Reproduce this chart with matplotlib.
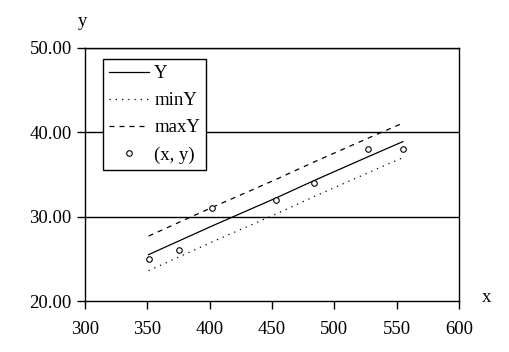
import matplotlib
matplotlib.use("Agg")
import matplotlib.pyplot as plt

# data
x_pts = [351, 375, 402, 453, 484, 527, 555]
y_pts = [25.0, 26.0, 31.0, 32.0, 34.0, 38.0, 38.0]
Y = [25.5, 27.1, 28.9, 32.2, 34.3, 37.1, 38.9]
minY = [23.6, 25.2, 27.0, 30.3, 32.4, 35.2, 37.0]
maxY = [27.7, 29.3, 31.1, 34.4, 36.5, 39.3, 41.1]
x_ticks = [300, 350, 400, 450, 500, 550, 600]
y_ticks = [20, 30, 40, 50]
y_tick_labels = ["20.00", "30.00", "40.00", "50.00"]

plt.rcParams['font.family'] = ['Liberation Serif', 'DejaVu Serif']

fig = plt.figure(figsize=(5.09, 3.52), dpi=100)
W, H = 509, 352
ax = fig.add_axes([85 / W, 1 - 301 / H, (459 - 85) / W, (301 - 48) / H])

ax.plot(x_pts, Y, color='black', lw=0.9, label='Y')
ax.plot(x_pts, minY, color='black', lw=0.9, linestyle=(0, (1, 4)), label='minY')
ax.plot(x_pts, maxY, color='black', lw=0.9, linestyle=(0, (4, 4)), label='maxY')
ax.plot(x_pts, y_pts, linestyle='none', marker='o', markersize=4,
        markerfacecolor='white', markeredgecolor='black', markeredgewidth=0.8,
        label='(x, y)')

ax.set_xlim(300, 600)
ax.set_ylim(20, 50)
ax.set_xticks(x_ticks)
ax.set_yticks(y_ticks)
ax.set_yticklabels(y_tick_labels)
for yv in y_ticks[1:]:
    ax.axhline(yv, color='black', lw=1.0, zorder=0)

for s in ax.spines.values():
    s.set_linewidth(1.0)
    s.set_color('black')

ax.tick_params(axis='both', direction='out', length=5.5, width=1.0,
               labelsize=13.5, colors='black', pad=4)
ax.tick_params(axis='x', pad=9)

fig.text(83 / W, 1 - 22 / H, 'y', fontsize=13.5, ha='center', va='center')
fig.text(487 / W, 1 - 298 / H, 'x', fontsize=13.5, ha='center', va='center')

leg = ax.legend(loc='upper left', bbox_to_anchor=((103 - 85) / (459 - 85), 1 - (59 - 48) / (301 - 48)),
                frameon=True, fancybox=False, edgecolor='black', framealpha=1,
                fontsize=13.5, handlelength=2.1, handletextpad=0.3, labelspacing=0.53,
                borderpad=0.33, borderaxespad=0)
leg.get_frame().set_linewidth(1.0)

fig.savefig('out.png', dpi=100)
